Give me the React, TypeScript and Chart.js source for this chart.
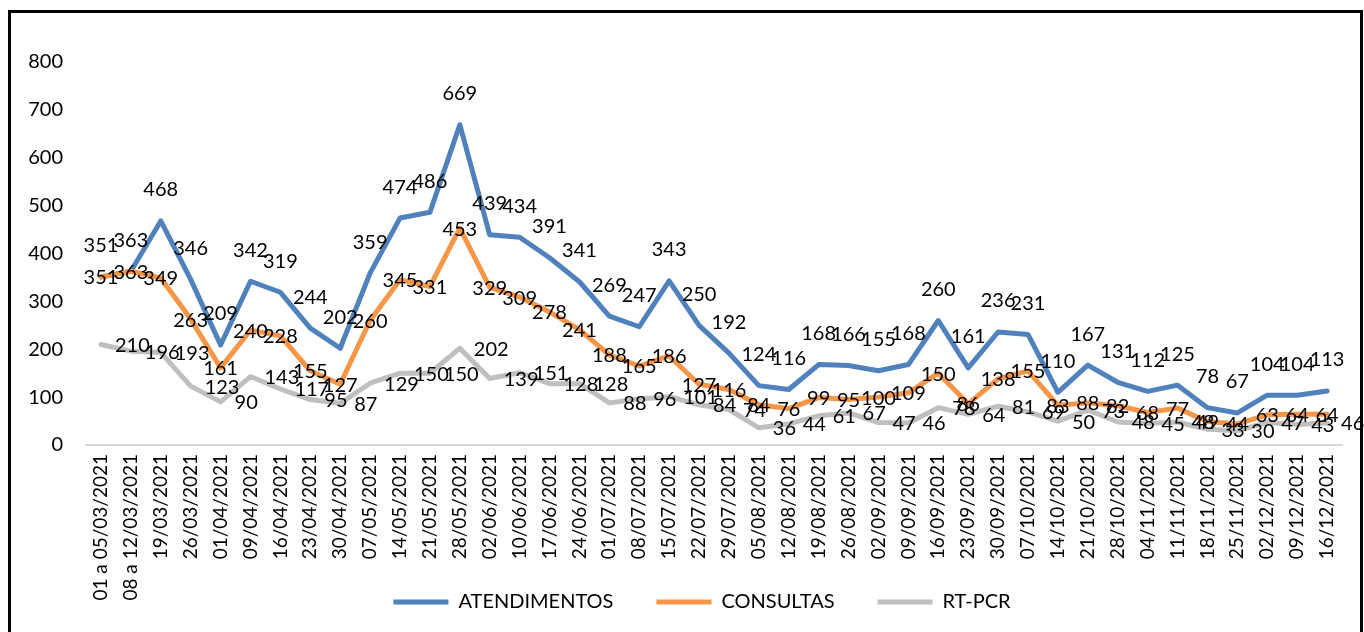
import React, { useEffect, useRef } from "react";
import { Chart, registerables } from "chart.js";

Chart.register(...registerables);

const categories = [
  "01 a 05/03/2021", "08 a 12/03/2021", "19/03/2021", "26/03/2021", "01/04/2021", "09/04/2021",
  "16/04/2021", "23/04/2021", "30/04/2021", "07/05/2021", "14/05/2021", "21/05/2021",
  "28/05/2021", "02/06/2021", "10/06/2021", "17/06/2021", "24/06/2021", "01/07/2021",
  "08/07/2021", "15/07/2021", "22/07/2021", "29/07/2021", "05/08/2021", "12/08/2021",
  "19/08/2021", "26/08/2021", "02/09/2021", "09/09/2021", "16/09/2021", "23/09/2021",
  "30/09/2021", "07/10/2021", "14/10/2021", "21/10/2021", "28/10/2021", "04/11/2021",
  "11/11/2021", "18/11/2021", "25/11/2021", "02/12/2021", "09/12/2021", "16/12/2021",
];

const atendimentos = [
  351, 363, 468, 346, 209, 342, 319, 244, 202, 359, 474, 486, 669, 439, 434, 391, 341, 269, 247, 343, 250,
  192, 124, 116, 168, 166, 155, 168, 260, 161, 236, 231, 110, 167, 131, 112, 125, 78, 67, 104, 104, 113,
];

const consultas = [
  351, 363, 349, 263, 161, 240, 228, 155, 127, 260, 345, 331, 453, 329, 309, 278, 241, 188, 165, 186, 127,
  116, 84, 76, 99, 95, 100, 109, 150, 86, 138, 155, 83, 88, 82, 68, 77, 49, 44, 63, 64, 64,
];

const rtpcr = [
  210, 196, 193, 123, 90, 143, 117, 95, 87, 129, 150, 150, 202, 139, 151, 128, 128, 88, 96, 101, 84,
  74, 36, 44, 61, 67, 47, 46, 78, 64, 81, 69, 50, 73, 48, 45, 48, 33, 30, 47, 43, 46,
];

const seriesNames = ["ATENDIMENTOS", "CONSULTAS", "RT-PCR"];
const seriesColors = ["#4F81BD", "#F79646", "#BFBFBF"];
const labelModes = ["above", "center", "right"];

const yMin = 0;
const yMax = 800;
const yStep = 100;

const FONT = "Lato, 'Open Sans', sans-serif";

const valueLabels = {
  id: "valueLabels",
  afterDatasetsDraw(chart: any) {
    const ctx = chart.ctx;
    ctx.save();
    ctx.font = `20px ${FONT}`;
    ctx.fillStyle = "#000000";
    ctx.textBaseline = "middle";
    chart.data.datasets.forEach((ds: any, di: number) => {
      const meta = chart.getDatasetMeta(di);
      const mode = labelModes[di];
      meta.data.forEach((el: any, i: number) => {
        let x = el.x;
        let y = el.y;
        if (mode === "above") {
          ctx.textAlign = "center";
          y -= 31;
        } else if (mode === "right") {
          ctx.textAlign = "left";
          x += 14;
          y += 1;
        } else {
          ctx.textAlign = "center";
          y += 1;
        }
        ctx.fillText(String(ds.data[i]), x, y);
      });
    });
    ctx.restore();
  },
};

// widen the tick-label clip areas so long labels are not cut off
const unclipTicks = {
  id: "unclipTicks",
  afterLayout(chart: any) {
    const y = chart.scales.y;
    const x = chart.scales.x;
    if (y) y.left = 0;
    if (x) x.bottom = chart.height;
  },
};

export default function App() {
  const ref = useRef<HTMLCanvasElement | null>(null);

  useEffect(() => {
    if (!ref.current) return;
    const seriesData = [atendimentos, consultas, rtpcr];
    const chart = new Chart(ref.current, {
      type: "line",
      data: {
        labels: categories,
        datasets: seriesData.map((d, i) => ({
          label: seriesNames[i],
          data: d,
          borderColor: seriesColors[i],
          backgroundColor: seriesColors[i],
          borderWidth: 5,
          pointRadius: 0,
          pointHoverRadius: 0,
          tension: 0,
          borderJoinStyle: "round" as const,
          borderCapStyle: "round" as const,
          order: 3 - i,
        })),
      },
      options: {
        animation: false,
        responsive: false,
        maintainAspectRatio: false,
        layout: { padding: { top: 62, left: 62, right: 22, bottom: 10 } },
        plugins: {
          tooltip: { enabled: false },
          legend: {
            position: "bottom",
            labels: {
              font: { family: FONT, size: 20 },
              color: "#000000",
              boxWidth: 55,
              boxHeight: 5,
              padding: 43,
              sort: (a: any, b: any) => a.datasetIndex - b.datasetIndex,
              generateLabels: (c: any) =>
                Chart.defaults.plugins.legend.labels.generateLabels(c).map((it: any) => ({
                  ...it,
                  fillStyle: seriesColors[it.datasetIndex],
                  strokeStyle: seriesColors[it.datasetIndex],
                  lineWidth: 0,
                })),
            },
          },
        },
        scales: {
          x: {
            type: "category",
            offset: true,
            grid: { display: false, drawTicks: false },
            border: { display: true, color: "#D9D9D9", width: 2 },
            ticks: {
              autoSkip: false,
              minRotation: 90,
              maxRotation: 90,
              padding: 9,
              color: "#000000",
              font: { family: FONT, size: 19 },
            },
            afterFit: (s: any) => {
              s.height = 104;
            },
          },
          y: {
            min: yMin,
            max: yMax,
            grid: { display: false, drawTicks: false },
            border: { display: false },
            ticks: {
              stepSize: yStep,
              padding: 23,
              color: "#000000",
              font: { family: FONT, size: 20 },
            },
            afterFit: (s: any) => {
              s.width = 24;
            },
          },
        },
      },
      plugins: [valueLabels, unclipTicks],
    });
    return () => chart.destroy();
  }, []);

  return (
    <div style={{ position: "fixed", left: 0, top: 0, width: 1364, height: 632, overflow: "hidden", background: "#fff" }}>
      <canvas ref={ref} width={1364} height={632} style={{ position: "absolute", left: 0, top: 0, width: 1364, height: 632 }} />
      <div
        style={{
          position: "absolute",
          left: 8,
          top: 10,
          width: 1355,
          height: 700,
          boxSizing: "border-box",
          border: "3px solid #000",
          pointerEvents: "none",
        }}
      />
    </div>
  );
}
